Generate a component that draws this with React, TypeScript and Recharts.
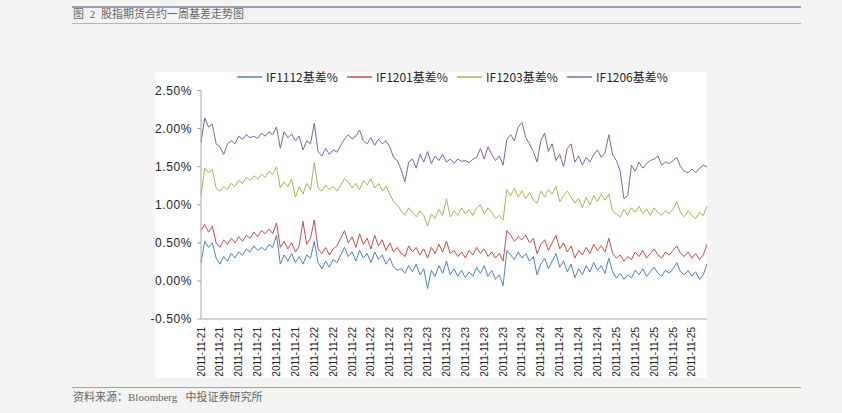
import React from 'react';
import { LineChart, Line, XAxis, YAxis } from 'recharts';

// one point every 10 minutes, 270 trading minutes a day -> 27 points per day
const dayLabels = ['2011-11-21', '2011-11-22', '2011-11-23', '2011-11-24', '2011-11-25'];
const pointsPerDay = 27;

const if1112 = [
  0.24, 0.52, 0.44, 0.5, 0.3, 0.22, 0.32, 0.26, 0.36, 0.3, 0.38, 0.34, 0.42, 0.38, 0.46, 0.4, 0.44, 0.4, 0.48, 0.44, 0.6, 0.22, 0.34, 0.26, 0.36, 0.24, 0.32,
  0.22, 0.34, 0.3, 0.52, 0.24, 0.16, 0.26, 0.18, 0.28, 0.24, 0.34, 0.44, 0.32, 0.38, 0.26, 0.4, 0.3, 0.36, 0.24, 0.38, 0.28, 0.34, 0.22, 0.3, 0.18, 0.14, 0.16,
  0.1, 0.2, 0.12, 0.22, 0.08, 0.16, -0.1, 0.14, 0.06, 0.2, 0.1, 0.26, 0.08, 0.16, 0.06, 0.14, 0.04, 0.12, 0.06, 0.18, 0.1, 0.2, 0.06, 0.14, 0.02, 0.08, -0.06,
  0.4, 0.34, 0.28, 0.38, 0.3, 0.36, 0.26, 0.32, 0.08, 0.22, 0.3, 0.16, 0.26, 0.36, 0.18, 0.26, 0.12, 0.22, 0.04, 0.16, 0.08, 0.2, 0.12, 0.24, 0.14, 0.2, 0.1,
  0.3, 0.12, 0.04, 0.1, 0.02, 0.08, 0.04, 0.14, 0.08, 0.16, 0.06, 0.12, 0.18, 0.1, 0.06, 0.14, 0.1, 0.16, 0.24, 0.12, 0.08, 0.14, 0.06, 0.12, 0.02, 0.08, 0.22,
];

const if1201 = [
  0.66, 0.74, 0.64, 0.72, 0.5, 0.44, 0.54, 0.48, 0.56, 0.5, 0.58, 0.52, 0.6, 0.56, 0.64, 0.58, 0.66, 0.62, 0.68, 0.62, 0.76, 0.44, 0.52, 0.42, 0.5, 0.38, 0.46,
  0.78, 0.48, 0.56, 0.8, 0.42, 0.36, 0.44, 0.34, 0.42, 0.46, 0.56, 0.66, 0.5, 0.58, 0.44, 0.62, 0.48, 0.56, 0.42, 0.6, 0.46, 0.54, 0.4, 0.5, 0.38, 0.44, 0.36,
  0.32, 0.46, 0.38, 0.44, 0.34, 0.42, 0.3, 0.44, 0.36, 0.48, 0.38, 0.52, 0.36, 0.4, 0.32, 0.38, 0.3, 0.4, 0.34, 0.44, 0.36, 0.42, 0.32, 0.38, 0.3, 0.36, 0.26,
  0.66, 0.6, 0.52, 0.58, 0.54, 0.6, 0.5, 0.56, 0.36, 0.48, 0.54, 0.4, 0.5, 0.6, 0.42, 0.5, 0.38, 0.46, 0.3, 0.4, 0.34, 0.44, 0.36, 0.48, 0.4, 0.46, 0.38,
  0.56, 0.36, 0.3, 0.34, 0.26, 0.32, 0.28, 0.38, 0.32, 0.4, 0.3, 0.36, 0.42, 0.34, 0.3, 0.38, 0.34, 0.4, 0.46, 0.36, 0.32, 0.38, 0.3, 0.36, 0.28, 0.34, 0.48,
];

const if1203 = [
  1.12, 1.48, 1.42, 1.46, 1.22, 1.18, 1.24, 1.2, 1.28, 1.24, 1.32, 1.28, 1.36, 1.32, 1.38, 1.34, 1.4, 1.36, 1.44, 1.4, 1.5, 1.22, 1.3, 1.24, 1.34, 1.1, 1.24,
  1.14, 1.28, 1.2, 1.55, 1.22, 1.18, 1.26, 1.2, 1.24, 1.18, 1.26, 1.34, 1.3, 1.22, 1.28, 1.2, 1.32, 1.26, 1.34, 1.22, 1.28, 1.18, 1.24, 1.14, 1.04, 1.0, 0.92,
  0.86, 0.96, 0.9, 0.84, 0.92, 0.86, 0.72, 0.88, 0.82, 0.94, 0.86, 1.08, 0.84, 0.92, 0.86, 0.96, 0.88, 0.94, 0.86, 0.96, 1.0, 0.88, 0.96, 0.9, 0.82, 0.86, 0.8,
  1.2, 1.12, 1.22, 1.1, 1.18, 1.08, 1.16, 1.06, 1.02, 1.18, 1.1, 1.2, 1.14, 1.24, 1.04, 1.12, 1.18, 1.1, 1.02, 1.08, 0.96, 1.1, 1.0, 1.12, 1.04, 1.14, 1.06,
  1.14, 0.92, 0.88, 0.84, 0.94, 0.86, 0.96, 0.9, 0.98, 0.88, 0.94, 0.86, 0.96, 0.9, 0.86, 0.92, 0.88, 0.94, 1.04, 0.9, 0.84, 0.92, 0.86, 0.82, 0.9, 0.86, 0.98,
];

const if1206 = [
  1.82, 2.14, 2.02, 2.06, 1.8, 1.76, 1.66, 1.8, 1.84, 1.8, 1.9, 1.86, 1.92, 1.88, 1.9, 1.87, 1.94, 1.9, 1.96, 1.92, 2.02, 1.74, 1.96, 1.88, 1.93, 1.84, 1.9,
  1.72, 1.84, 1.8, 2.07, 1.7, 1.64, 1.74, 1.66, 1.72, 1.69, 1.78, 1.86, 1.92, 1.86, 1.9, 1.98, 1.84, 1.8, 1.88, 1.78, 1.86, 1.8, 1.84, 1.76, 1.62, 1.58, 1.46,
  1.3, 1.56, 1.6, 1.48, 1.66, 1.56, 1.7, 1.54, 1.64, 1.58, 1.66, 1.56, 1.6, 1.54, 1.6, 1.57, 1.58, 1.55, 1.6, 1.62, 1.74, 1.6, 1.76, 1.66, 1.58, 1.64, 1.52,
  1.86, 1.92, 1.84, 2.02, 2.08, 1.88, 1.8, 1.7, 1.56, 1.84, 1.94, 1.7, 1.8, 1.58, 1.66, 1.5, 1.74, 1.8, 1.56, 1.64, 1.52, 1.62, 1.56, 1.66, 1.72, 1.62, 1.68,
  1.92, 1.66, 1.58, 1.44, 1.08, 1.12, 1.52, 1.44, 1.56, 1.48, 1.54, 1.58, 1.6, 1.64, 1.52, 1.56, 1.54, 1.58, 1.62, 1.5, 1.44, 1.42, 1.47, 1.42, 1.48, 1.52, 1.5,
];

const yTicks = [-0.5, 0, 0.5, 1, 1.5, 2, 2.5];

const series = [
  { key: 'if1112', name: 'IF1112基差%', color: '#4F81BD', values: if1112 },
  { key: 'if1201', name: 'IF1201基差%', color: '#C0504D', values: if1201 },
  { key: 'if1203', name: 'IF1203基差%', color: '#9BBB59', values: if1203 },
  { key: 'if1206', name: 'IF1206基差%', color: '#8064A2', values: if1206 },
];

const data = if1112.map((_, i) => {
  const row: Record<string, number> = { i };
  series.forEach((s) => {
    row[s.key] = s.values[i];
  });
  return row;
});

const lastIndex = if1112.length - 1;
const labelTicks = Array.from({ length: 27 }, (_, k) => k * 5);
const dayTicks = dayLabels.slice(1).map((_, d) => (d + 1) * pointsPerDay);

const sans = "'Liberation Sans', Arial, sans-serif";
const cjk = "'Noto Sans CJK SC', sans-serif";
const serifCjk = "'Liberation Serif', 'Noto Sans CJK SC', serif";

const XTick = (props: any) => {
  const { x, y, payload } = props;
  const day = Math.min(Math.floor(payload.value / pointsPerDay), dayLabels.length - 1);
  return (
    <text
      transform={`translate(${x},${y}) rotate(-90)`}
      textAnchor='end'
      dominantBaseline='central'
      fontSize={10}
      fontFamily={sans}
      fill='#222'
    >
      {dayLabels[day]}
    </text>
  );
};

const App = () => {
  return (
    <div
      style={{
        position: 'fixed',
        top: 0,
        left: 0,
        width: 842,
        height: 413,
        background: '#f3f3f3',
        overflow: 'hidden',
      }}
    >
      {/* header rules and title */}
      <div style={{ position: 'absolute', left: 72, top: 6, width: 729, height: 2, background: '#9c9cba' }} />
      <div
        style={{
          position: 'absolute',
          left: 73,
          top: 7,
          fontSize: 11,
          lineHeight: '15px',
          fontFamily: serifCjk,
          color: '#666',
          whiteSpace: 'pre',
          wordSpacing: 3,
        }}
      >
        图 2 股指期货合约一周基差走势图
      </div>
      <div style={{ position: 'absolute', left: 72, top: 23, width: 729, height: 1, background: '#b2b2c8' }} />

      {/* white chart area */}
      <div
        style={{
          position: 'absolute',
          left: 155,
          top: 72,
          width: 552,
          height: 306,
          background: '#fff',
        }}
      >
        <div style={{ position: 'absolute', left: 82, top: -2, display: 'flex', height: 14 }}>
          {series.map((s) => (
            <div key={s.key} style={{ width: 110, display: 'flex', alignItems: 'center' }}>
              <span
                style={{ display: 'inline-block', width: 25, height: 2, background: s.color, opacity: 0.75, marginRight: 4 }}
              />
              <span style={{ fontSize: 12, lineHeight: '14px', fontFamily: cjk, color: '#222', whiteSpace: 'nowrap' }}>
                {s.name}
              </span>
            </div>
          ))}
        </div>

        <div style={{ position: 'absolute', left: -5, top: 0 }}>
          <LineChart
            width={557}
            height={306}
            data={data}
            margin={{ top: 18.5, right: 0, bottom: 0, left: 0 }}
          >
            <XAxis
              type='number'
              dataKey='i'
              domain={[0, lastIndex]}
              ticks={labelTicks}
              interval={0}
              tick={<XTick />}
              tickLine={false}
              tickSize={0}
              tickMargin={8}
              height={59}
              axisLine={{ stroke: '#a6a6a6' }}
            />
            <XAxis
              xAxisId='day'
              type='number'
              dataKey='i'
              domain={[0, lastIndex]}
              ticks={dayTicks}
              interval={0}
              tick={false}
              tickLine={{ stroke: '#a6a6a6' }}
              tickSize={5}
              axisLine={false}
              mirror
              height={1}
            />
            <YAxis
              type='number'
              domain={[-0.5, 2.5]}
              ticks={yTicks}
              interval={0}
              width={51}
              tickSize={4}
              tickMargin={5}
              tickFormatter={(v: number) => `${v.toFixed(2)}%`}
              tick={{ fontSize: 12, fill: '#222', fontFamily: sans, letterSpacing: 0.6 }}
              tickLine={{ stroke: '#a6a6a6' }}
              axisLine={{ stroke: '#a6a6a6' }}
            />
            {series.map((s) => (
              <Line
                key={s.key}
                type='linear'
                dataKey={s.key}
                name={s.name}
                stroke={s.color}
                strokeWidth={1}
                dot={false}
                isAnimationActive={false}
              />
            ))}
          </LineChart>
        </div>
      </div>

      {/* footer */}
      <div style={{ position: 'absolute', left: 72, top: 387, width: 729, height: 1, background: '#9c9cba' }} />
      <div
        style={{
          position: 'absolute',
          left: 73,
          top: 390,
          fontSize: 11,
          lineHeight: '15px',
          fontFamily: serifCjk,
          color: '#666',
          whiteSpace: 'pre',
        }}
      >
        资料来源：Bloomberg   中投证券研究所
      </div>
    </div>
  );
};

export default App;
